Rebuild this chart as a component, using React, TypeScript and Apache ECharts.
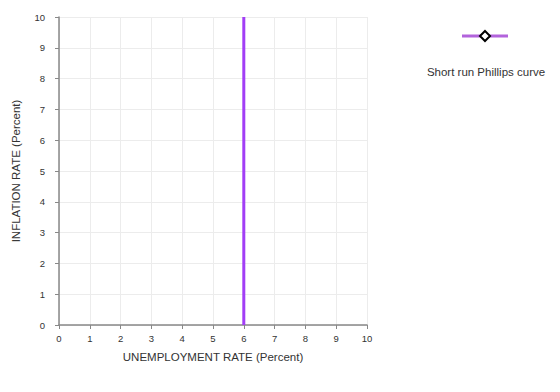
import React, { useEffect, useRef } from "react";
import * as echarts from "echarts";

const seriesName = "Short run Phillips curve";
const curveX = [6, 6];
const curveY = [0, 10];
const xTicks = [0, 1, 2, 3, 4, 5, 6, 7, 8, 9, 10];
const yTicks = [0, 1, 2, 3, 4, 5, 6, 7, 8, 9, 10];

export default function App() {
  const ref = useRef<HTMLDivElement>(null);
  useEffect(() => {
    const chart = echarts.init(ref.current!, undefined, { renderer: "svg" });
    const font = "Arial, 'Liberation Sans', sans-serif";
    chart.setOption({
      animation: false,
      grid: { left: 59, right: 193, top: 17, bottom: 67, containLabel: false },
      xAxis: {
        type: "value",
        min: xTicks[0],
        max: xTicks[xTicks.length - 1],
        interval: 1,
        name: "UNEMPLOYMENT RATE (Percent)",
        nameLocation: "middle",
        nameGap: 26,
        nameTextStyle: { color: "#333", fontSize: 11.5, fontFamily: font },
        axisLine: { lineStyle: { color: "#888", width: 1.5 } },
        axisTick: { show: true, length: 4, lineStyle: { color: "#888" } },
        axisLabel: { color: "#333", fontSize: 9.5, fontFamily: font, margin: 8 },
        splitLine: { show: true, lineStyle: { color: "#ececec" } },
      },
      yAxis: {
        type: "value",
        min: yTicks[0],
        max: yTicks[yTicks.length - 1],
        interval: 1,
        name: "INFLATION RATE (Percent)",
        nameLocation: "middle",
        nameGap: 37,
        nameTextStyle: { color: "#333", fontSize: 11.5, fontFamily: font },
        axisLine: { show: true, lineStyle: { color: "#888", width: 1.5 } },
        axisTick: { show: true, length: 4, lineStyle: { color: "#888" } },
        axisLabel: { color: "#333", fontSize: 9.5, fontFamily: font, margin: 14 },
        splitLine: { show: true, lineStyle: { color: "#ececec" } },
      },
      series: [
        {
          name: seriesName,
          type: "line",
          data: curveX.map((x, i) => [x, curveY[i]]),
          lineStyle: { color: "#a23ef6", width: 3 },
          itemStyle: { color: "#a23ef6" },
          showSymbol: false,
          symbol: "none",
        },
      ],
      graphic: [
        {
          type: "line",
          shape: { x1: 462, y1: 36, x2: 508, y2: 36 },
          style: { stroke: "#b263dc", lineWidth: 3 },
        },
        {
          type: "polygon",
          shape: { points: [[485, 31], [490, 36], [485, 41], [480, 36]] },
          style: { fill: "#fff", stroke: "#000", lineWidth: 2 },
        },
        {
          type: "text",
          x: 486,
          y: 72,
          style: {
            text: seriesName,
            fill: "#333",
            fontSize: 11.5,
            fontFamily: font,
            align: "center",
            verticalAlign: "middle",
          },
        },
      ],
    });
    return () => chart.dispose();
  }, []);
  return <div ref={ref} style={{ width: 560, height: 392, position: "absolute", left: 0, top: 0 }} />;
}
